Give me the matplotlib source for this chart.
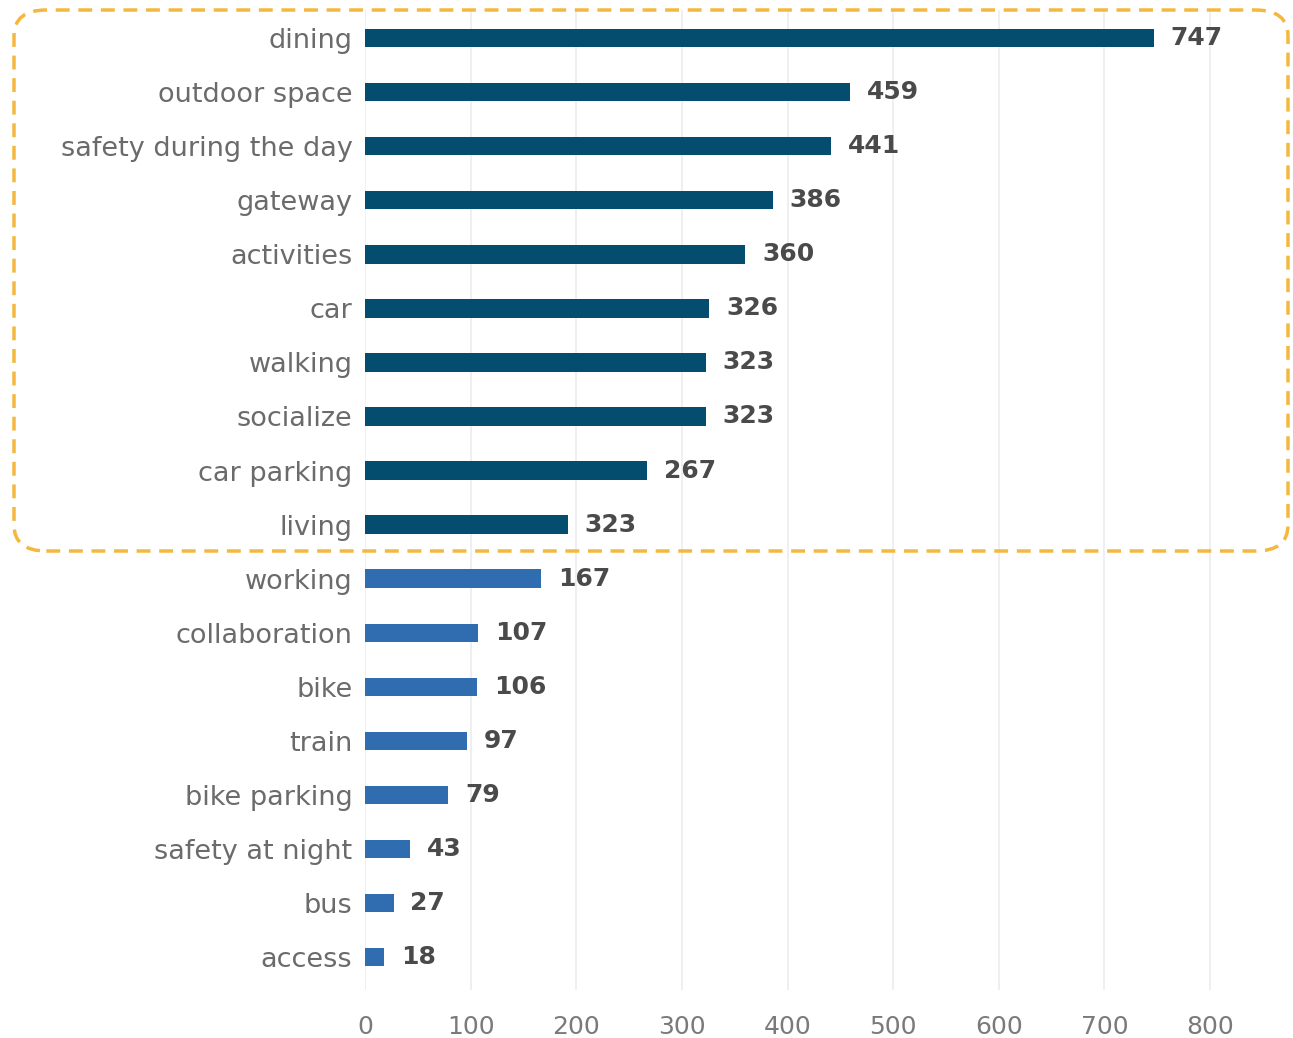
import matplotlib.pyplot as plt
from matplotlib.patches import FancyBboxPatch

categories = ["dining", "outdoor space", "safety during the day", "gateway", "activities",
              "car", "walking", "socialize", "car parking", "living",
              "working", "collaboration", "bike", "train", "bike parking",
              "safety at night", "bus", "access"]
# bar lengths as drawn (living bar is shorter than its printed label)
values = [747, 459, 441, 386, 360, 326, 323, 323, 267, 192,
          167, 107, 106, 97, 79, 43, 27, 18]
value_labels = ["747", "459", "441", "386", "360", "326", "323", "323", "267", "323",
                "167", "107", "106", "97", "79", "43", "27", "18"]
n_top = 10
xticks = [0, 100, 200, 300, 400, 500, 600, 700, 800]

dark = "#054d6e"
light = "#2f6db0"

plt.rcParams['font.family'] = ['DejaVu Sans']

W, H = 1293, 1038
fig = plt.figure(figsize=(W / 100, H / 100), dpi=100)
ax = fig.add_axes([365 / W, 1 - 990 / H, (1260 - 365) / W, 980 / H])

ypos = list(range(len(categories)))
colors = [dark if i < n_top else light for i in ypos]
ax.barh(ypos, values, height=0.34, color=colors, zorder=3)

for y, v, lab in zip(ypos, values, value_labels):
    ax.annotate(lab, (v, y), xytext=(12, 0), textcoords="offset points",
                va="center", ha="left", fontsize=18, fontweight="bold", color="#4a4a4a")

ax.set_ylim(17.61, -0.52)
ax.set_xlim(0, 800 * (1260 - 365) / (1210 - 365))
ax.set_yticks(ypos)
ax.set_yticklabels(categories, fontsize=19.5, color="#6b6b6b")
ax.set_xticks(xticks)
ax.set_xticklabels([str(t) for t in xticks], fontsize=18, color="#7a7a7a")
ax.tick_params(axis="both", length=0)
ax.tick_params(axis="y", pad=9)
ax.tick_params(axis="x", pad=18)
ax.grid(axis="x", color="#ececec", linewidth=1.2, zorder=0)
for s in ax.spines.values():
    s.set_visible(False)

# dashed highlight box around the top 10
box = FancyBboxPatch((14 / W, 1 - 551 / H), (1288 - 14) / W, (551 - 10) / H,
                     boxstyle="round,pad=0,rounding_size=0.025",
                     transform=fig.transFigure, fill=False,
                     edgecolor="#f4b73f", linewidth=2.5, linestyle=(0, (4, 2.5)),
                     clip_on=False)
fig.patches.append(box)

fig.savefig("out.png", dpi=100)
